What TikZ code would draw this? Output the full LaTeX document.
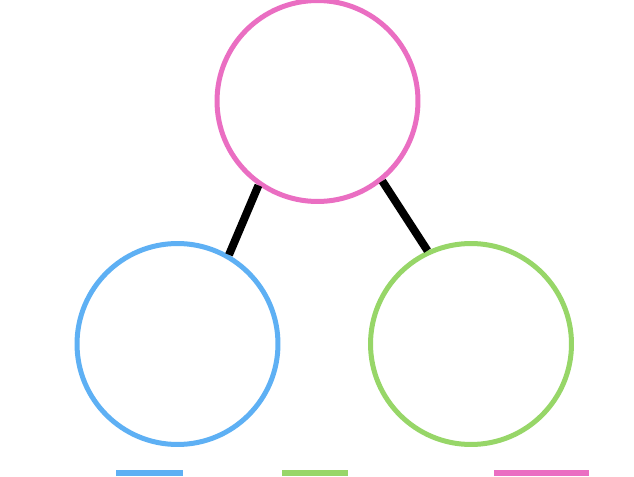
\documentclass[tikz,border=0pt]{standalone}
\usepackage{tikz}
\usetikzlibrary{arrows}

\definecolor{cblue}{RGB}{94,176,244}
\definecolor{cgreen}{RGB}{151,214,104}
\definecolor{cpink}{RGB}{234,110,194}

\begin{document}
\begin{tikzpicture}[x=0.02cm, y=-0.02cm,
  ball/.style={circle, draw, line width=0.1cm, fill=white, minimum size=4.02cm, inner sep=0pt},
  link/.style={line width=0.16cm}]
\useasboundingbox (0,0) rectangle (634,476);
\node [ball, draw=cpink] (top) at (317.5, 101) {};
\node [ball, draw=cblue] (left) at (177.5, 344) {};
\node [ball, draw=cgreen] (right) at (471, 344) {};
\draw [link] (top.235) -- (left.60);
\draw [link] (top.309) -- (right.115);
\fill [cblue] (116,470) rectangle (183,476);
\fill [cgreen] (282,470) rectangle (348,476);
\fill [cpink] (494,470) rectangle (589,476);
\end{tikzpicture}
\end{document}
